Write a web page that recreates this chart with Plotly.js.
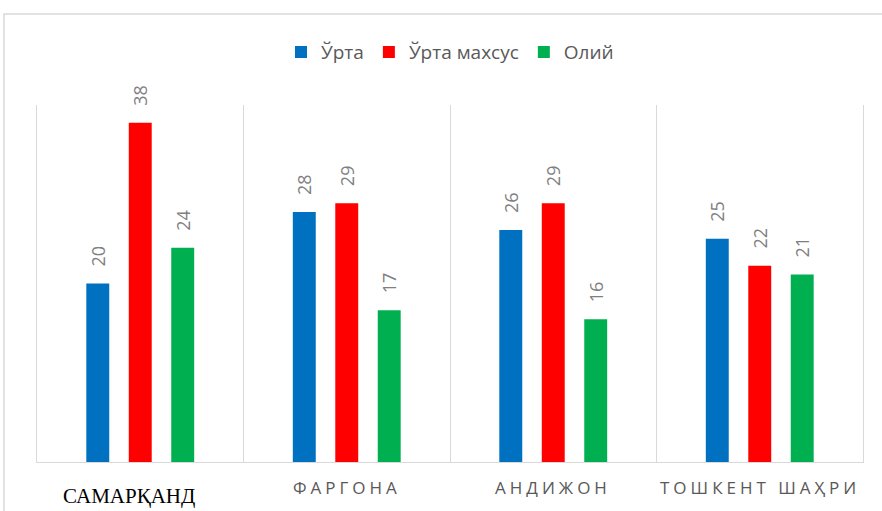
<!DOCTYPE html>
<html>
<head>
<meta charset="utf-8">
<script src="https://cdn.plot.ly/plotly-3.0.1.min.js"></script>
<style>
html,body{margin:0;padding:0;background:#fff;}
#chart{width:882px;height:511px;}
</style>
</head>
<body>
<div id="chart"></div>
<script>
const categories = ['САМАРҚАНД', 'ФАРГОНА', 'АНДИЖОН', 'ТОШКЕНТ ШАҲРИ'];
const seriesNames = ['Ўрта', 'Ўрта махсус', 'Олий'];
const urta = [20, 28, 26, 25];
const urtaMaxsus = [38, 29, 29, 22];
const oliy = [24, 17, 16, 21];
const colors = ['#0070c0', '#ff0000', '#00b050'];
const seriesValues = [urta, urtaMaxsus, oliy];

const traces = seriesValues.map((vals, i) => ({
  type: 'bar',
  name: seriesNames[i],
  x: categories,
  y: vals,
  marker: {color: colors[i]},
  text: vals.map(v => '\u00a0\u00a0\u00a0' + v),
  textposition: 'outside',
  textangle: -90,
  constraintext: 'none',
  cliponaxis: false,
  textfont: {family: 'Open Sans, sans-serif', size: 18, color: '#7f7f7f'},
  hoverinfo: 'skip'
}));

const labelAnnotations = categories.map((c, i) => {
  if (i === 0) {
    return {
      x: c, xref: 'x', y: -0.095, yref: 'paper', xshift: -11,
      text: c, showarrow: false, xanchor: 'center', yanchor: 'middle',
      font: {family: 'Liberation Serif, Times New Roman, serif', size: 21, color: '#000000'}
    };
  }
  return {
    x: c, xref: 'x', y: -0.071, yref: 'paper', xshift: 0,
    text: '<span style="letter-spacing:4px">' + c + '</span>', showarrow: false,
    xanchor: 'center', yanchor: 'middle',
    font: {family: 'Open Sans, sans-serif', size: 17, color: '#595959'}
  };
});

const layout = {
  width: 882, height: 511,
  margin: {l: 37, r: 19, t: 105, b: 49},
  paper_bgcolor: '#ffffff', plot_bgcolor: '#ffffff',
  barmode: 'group',
  bargap: 0.383,
  bargroupgap: 0.46,
  showlegend: true,
  legend: {
    orientation: 'h', x: 0.5, xanchor: 'center', y: 1.148, yanchor: 'middle',
    font: {family: 'Open Sans, sans-serif', size: 19, color: '#595959'},
    itemclick: false
  },
  xaxis: {
    type: 'category',
    tickson: 'boundaries',
    showgrid: true, gridcolor: '#d9d9d9', gridwidth: 1,
    showline: true, linecolor: '#d9d9d9', linewidth: 1,
    showticklabels: false, ticks: '',
    zeroline: false,
    range: [-0.5, 3.5]
  },
  yaxis: {
    range: [0, 40],
    showgrid: false, zeroline: false,
    showline: true, mirror: true, linecolor: '#d9d9d9', linewidth: 1,
    showticklabels: false, ticks: ''
  },
  shapes: [{
    type: 'rect', xref: 'paper', yref: 'paper',
    x0: -0.04, x1: 1.2, y0: -0.6, y1: 1.255,
    line: {color: '#d9d9d9', width: 1.5}, fillcolor: 'rgba(0,0,0,0)', layer: 'below'
  }],
  annotations: labelAnnotations
};

Plotly.newPlot('chart', traces, layout, {displayModeBar: false, staticPlot: true});
</script>
</body>
</html>
